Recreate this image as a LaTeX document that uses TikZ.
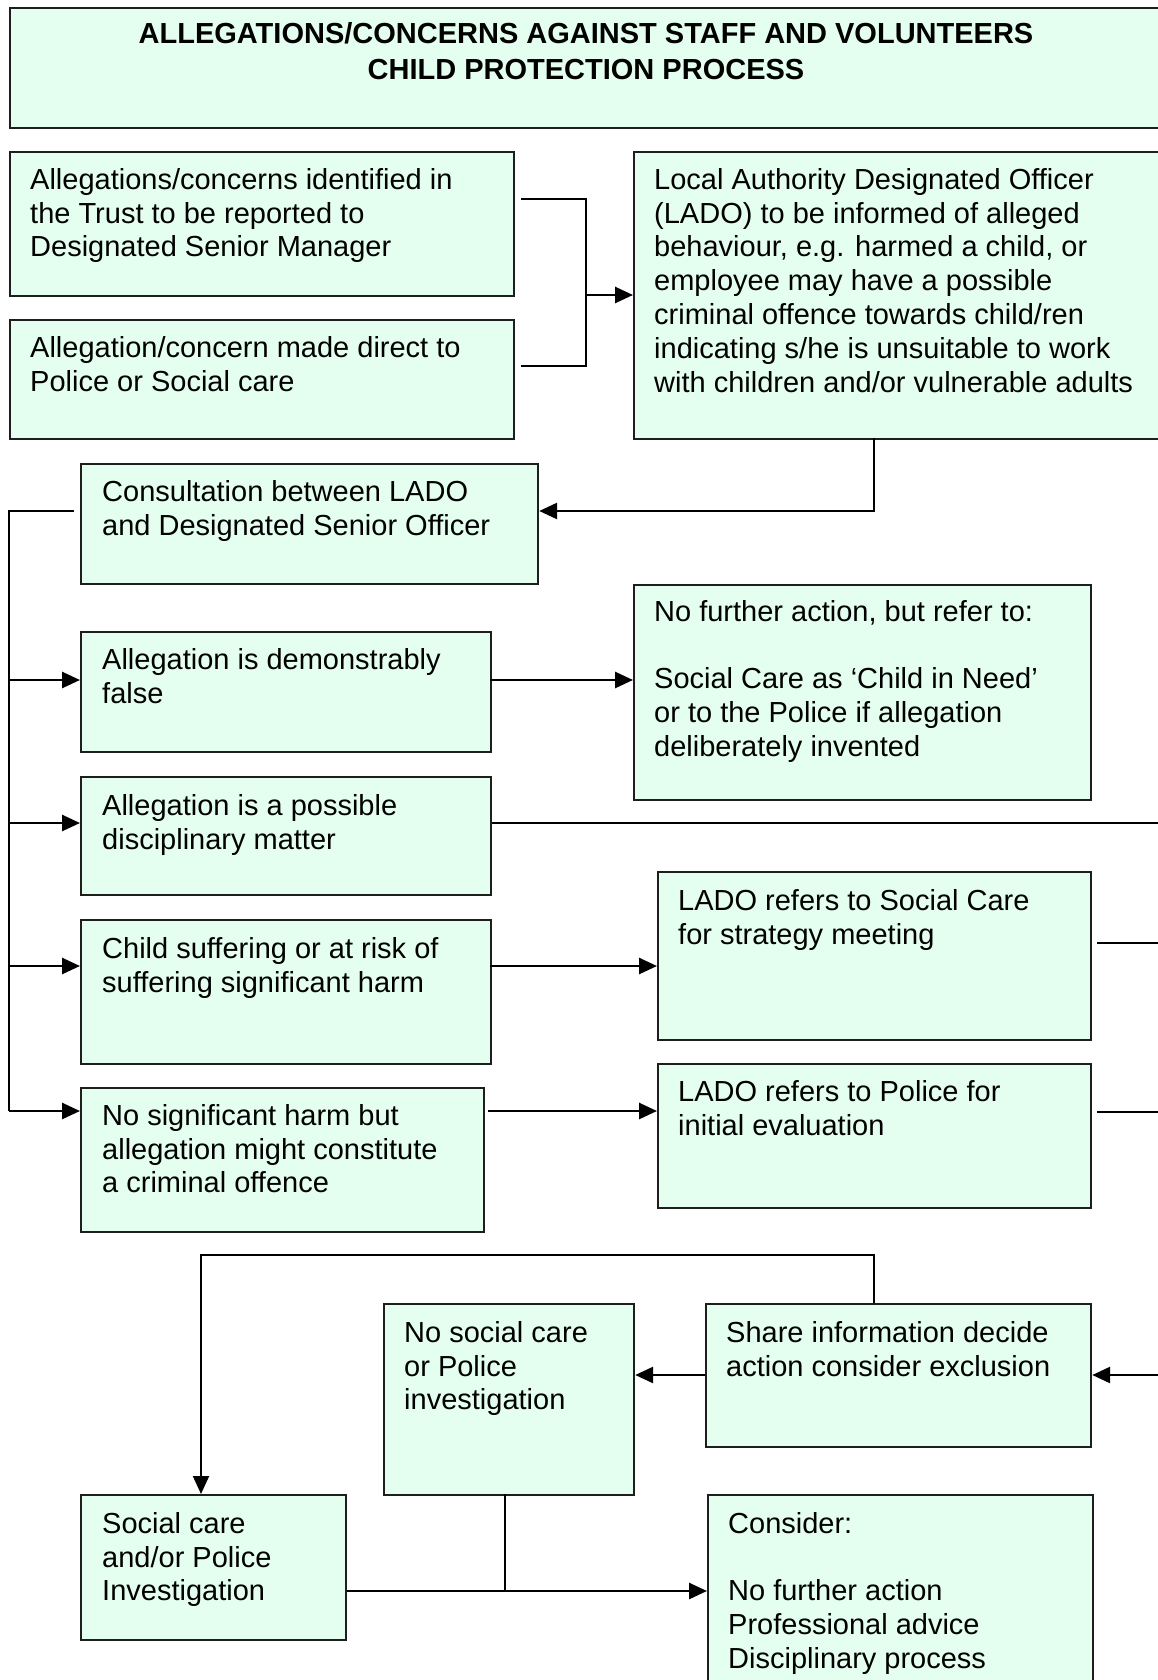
\documentclass[tikz,border=0pt]{standalone}
\usepackage{fontspec}
\setmainfont{Liberation Sans}
\usetikzlibrary{arrows.meta}
\definecolor{mint}{RGB}{228,255,240}
\definecolor{edge}{RGB}{30,30,30}
\tikzset{
  box/.style={draw=edge, fill=mint, line width=2.2pt, inner sep=0pt, anchor=north west},
  txt/.style={anchor=north west, align=left, inner sep=0pt, font=\fontsize{29}{33.8}\selectfont, execute at begin node={\rule{0pt}{25pt}}},
  ttl/.style={anchor=north, align=center, inner sep=0pt, font=\fontsize{29}{36}\selectfont\bfseries, execute at begin node={\rule{0pt}{25pt}}},
  conn/.style={draw=black, line width=2.7pt},
  thin/.style={draw=black, line width=1.9pt},
  tip/.style={-{Triangle[length=18pt,width=16pt]}},
  arr/.style={conn, tip},
}
\newcommand{\bx}[5]{\node[box, minimum width={(#4-#2)*1pt}, minimum height={(#5-#3)*1pt}] (#1) at (#2,#3) {};}
\begin{document}
\begin{tikzpicture}[x=1pt,y=-1pt]
\clip (0,0) rectangle (1158,1680);
\fill[white] (0,0) rectangle (1158,1680);
% boxes
\bx{title}{9}{7}{1175}{127}
\bx{A}{9}{151}{513}{295}
\bx{B}{9}{319}{513}{438}
\bx{lado}{633}{151}{1175}{438}
\bx{cons}{80}{463}{537}{583}
\bx{false}{80}{631}{490}{751}
\bx{nfa}{633}{584}{1090}{799}
\bx{disc}{80}{776}{490}{894}
\bx{child}{80}{919}{490}{1063}
\bx{lsc}{657}{871}{1090}{1039}
\bx{nosig}{80}{1087}{483}{1231}
\bx{lpol}{657}{1063}{1090}{1207}
\bx{nosc}{383}{1303}{633}{1494}
\bx{share}{705}{1303}{1090}{1446}
\bx{scp}{80}{1494}{345}{1639}
\bx{consider}{707}{1494}{1092}{1710}
% texts
\node[ttl] (titleT) at (586,22) {ALLEGATIONS/CONCERNS AGAINST STAFF AND VOLUNTEERS\\CHILD PROTECTION PROCESS};
\node[txt] (AT) at (30,168) {Allegations/concerns identified in\\the Trust to be reported to\\Designated Senior Manager};
\node[txt] (BT) at (30,336) {Allegation/concern made direct to\\Police or Social care};
\node[txt] (ladoT) at (654,168) {Local Authority Designated Officer\\(LADO) to be informed of alleged\\behaviour, e.g. harmed a child, or\\employee may have a possible\\criminal offence towards child/ren\\indicating s/he is unsuitable to work\\with children and/or vulnerable adults};
\node[txt] (consT) at (102,480) {Consultation between LADO\\and Designated Senior Officer};
\node[txt] (falseT) at (102,648) {Allegation is demonstrably\\false};
\node[txt] (nfaT) at (654,600) {No further action, but refer to:\\[33.8pt]Social Care as ‘Child in Need’\\or to the Police if allegation\\deliberately invented};
\node[txt] (discT) at (102,794) {Allegation is a possible\\disciplinary matter};
\node[txt] (childT) at (102,937) {Child suffering or at risk of\\suffering significant harm};
\node[txt] (lscT) at (678,889) {LADO refers to Social Care\\for strategy meeting};
\node[txt] (nosigT) at (102,1104) {No significant harm but\\allegation might constitute\\a criminal offence};
\node[txt] (lpolT) at (678,1080) {LADO refers to Police for\\initial evaluation};
\node[txt] (noscT) at (404,1321) {No social care\\or Police\\investigation};
\node[txt] (shareT) at (726,1321) {Share information decide\\action consider exclusion};
\node[txt] (scpT) at (102,1512) {Social care\\and/or Police\\Investigation};
\node[txt] (considerT) at (728,1512) {Consider:\\[33.8pt]No further action\\Professional advice\\Disciplinary process};
% coordinates
\coordinate (aS) at (521,199);
\coordinate (bS) at (521,366);
\coordinate (jn) at (586,295);
\coordinate (consL) at (74,511);
\coordinate (rail) at (9,511);
\coordinate (railEnd) at (9,1111);
\coordinate (discR) at (1165,823);
\coordinate (lscS) at (1097,943);
\coordinate (lscR) at (1165,943);
\coordinate (nosigS) at (488,1111);
\coordinate (lpolS) at (1097,1112);
\coordinate (lpolR) at (1165,1112);
\coordinate (shareIn) at (1165,1375);
% connectors
\draw[thin] (aS) -- (586,199) -- (586,366) -- (bS);
\draw[arr] (jn) -- (jn -| lado.west);
\draw[arr] (874,438) -- (874,511) -- (consL -| cons.east);
\draw[conn] (consL) -- (rail) -- (railEnd);
\draw[arr] (9,680) -- (80,680);
\draw[arr] (9,823) -- (80,823);
\draw[arr] (9,966) -- (80,966);
\draw[arr] (railEnd) -- (railEnd -| nosig.west);
\draw[arr] (490,680) -- (633,680);
\draw[thin] (disc.east |- discR) -- (discR);
\draw[arr] (490,966) -- (657,966);
\draw[thin] (lscS) -- (lscR);
\draw[arr] (nosigS) -- (nosigS -| lpol.west);
\draw[thin] (lpolS) -- (lpolR);
\draw[arr] (shareIn) -- (shareIn -| share.east);
\draw[arr] (share.west |- shareIn) -- (nosc.east |- shareIn);
\draw[thin, tip] (874,1303) -- (874,1255) -- (201,1255) -- (201,1494);
\draw[thin] (505,1494) -- (505,1591);
\draw[arr] (scp.east |- 0,1591) -- (consider.west |- 0,1591);
\end{tikzpicture}
\end{document}
